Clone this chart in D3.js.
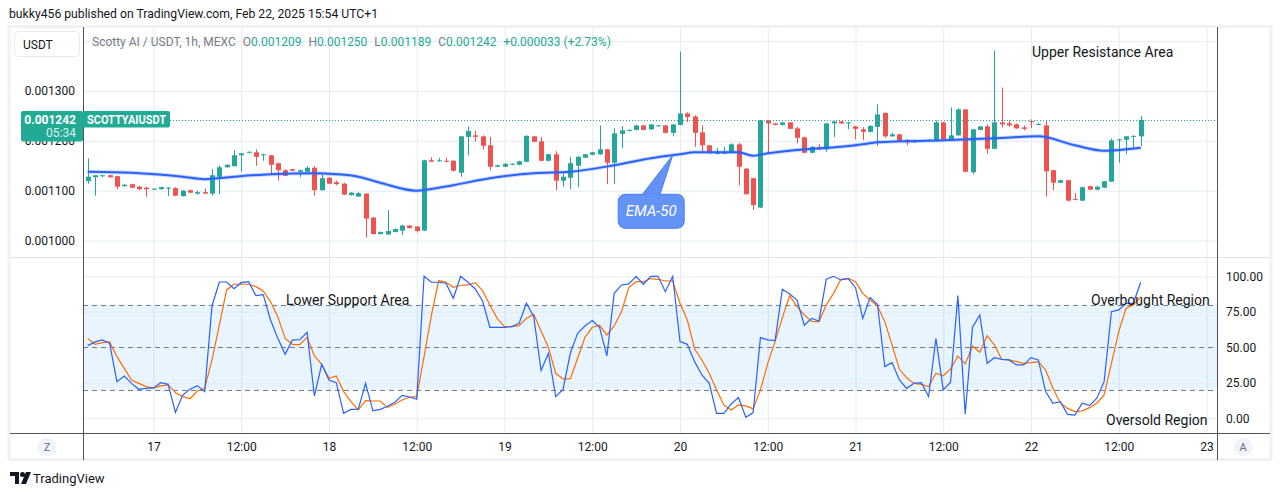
<!DOCTYPE html>
<html>
<head>
<meta charset="utf-8">
<script src="https://cdn.jsdelivr.net/npm/d3@7"></script>
<style>
  body { margin: 0; background: #fff; }
  svg { display: block; font-family: Roboto, "Noto Sans", sans-serif; }
</style>
</head>
<body>
<svg id="chart" width="1281" height="496"></svg>
<script>
// SCOTTYAI / USDT, 1h candles from MEXC
// first candle is Feb 16 15:00, one per hour up to Feb 22 15:00 (145 candles)
const firstCandle = Date.UTC(2025, 1, 16, 15)

const opens = [
  0.001119, 0.001127, 0.001129, 0.001131, 0.001129, 0.001109, 0.001113, 0.001108, 0.001106, 0.001103,
  0.001103, 0.001105, 0.001105, 0.001089, 0.001101, 0.001094, 0.001097, 0.001094, 0.001128, 0.001147,
  0.001149, 0.001171, 0.001176, 0.001177, 0.001171, 0.001171, 0.001155, 0.001141, 0.001143, 0.001138,
  0.001138, 0.001146, 0.001101, 0.001126, 0.001117, 0.001114, 0.001091, 0.001088, 0.001094, 0.001046,
  0.001013, 0.001012, 0.001017, 0.001020, 0.001030, 0.001028, 0.001020, 0.001161, 0.001159, 0.001160,
  0.001160, 0.001136, 0.001208, 0.001211, 0.001209, 0.001191, 0.001148, 0.001148, 0.001152, 0.001152,
  0.001158, 0.001209, 0.001199, 0.001160, 0.001173, 0.001120, 0.001126, 0.001150, 0.001166, 0.001172,
  0.001173, 0.001183, 0.001156, 0.001214, 0.001220, 0.001222, 0.001231, 0.001223, 0.001230, 0.001231,
  0.001216, 0.001232, 0.001255, 0.001249, 0.001217, 0.001191, 0.001174, 0.001175, 0.001177, 0.001193,
  0.001144, 0.001125, 0.001066, 0.001241, 0.001235, 0.001232, 0.001237, 0.001225, 0.001207, 0.001176,
  0.001187, 0.001183, 0.001235, 0.001239, 0.001235, 0.001229, 0.001223, 0.001218, 0.001228, 0.001256,
  0.001209, 0.001213, 0.001202, 0.001197, 0.001199, 0.001200, 0.001200, 0.001237, 0.001203, 0.001211,
  0.001263, 0.001137, 0.001222, 0.001229, 0.001184, 0.001237, 0.001235, 0.001233, 0.001227, 0.001240,
  0.001233, 0.001231, 0.001141, 0.001116, 0.001121, 0.001083, 0.001080, 0.001109, 0.001102, 0.001106,
  0.001118, 0.001201, 0.001202, 0.001209, 0.001209
]
const highs = [
  0.001165, 0.001131, 0.001132, 0.001132, 0.001130, 0.001113, 0.001114, 0.001110, 0.001108, 0.001105,
  0.001108, 0.001107, 0.001107, 0.001101, 0.001102, 0.001100, 0.001104, 0.001143, 0.001151, 0.001153,
  0.001181, 0.001176, 0.001179, 0.001183, 0.001174, 0.001172, 0.001156, 0.001143, 0.001144, 0.001142,
  0.001149, 0.001149, 0.001133, 0.001127, 0.001120, 0.001116, 0.001097, 0.001097, 0.001095, 0.001047,
  0.001018, 0.001061, 0.001024, 0.001031, 0.001031, 0.001029, 0.001162, 0.001167, 0.001166, 0.001166,
  0.001161, 0.001210, 0.001229, 0.001220, 0.001211, 0.001208, 0.001152, 0.001155, 0.001155, 0.001160,
  0.001211, 0.001210, 0.001208, 0.001174, 0.001179, 0.001135, 0.001168, 0.001169, 0.001174, 0.001178,
  0.001231, 0.001184, 0.001225, 0.001230, 0.001223, 0.001232, 0.001232, 0.001234, 0.001232, 0.001232,
  0.001234, 0.001379, 0.001257, 0.001251, 0.001231, 0.001192, 0.001186, 0.001188, 0.001195, 0.001196,
  0.001145, 0.001126, 0.001242, 0.001242, 0.001235, 0.001238, 0.001238, 0.001228, 0.001208, 0.001189,
  0.001193, 0.001236, 0.001240, 0.001240, 0.001238, 0.001230, 0.001227, 0.001231, 0.001273, 0.001257,
  0.001217, 0.001214, 0.001203, 0.001202, 0.001201, 0.001203, 0.001241, 0.001238, 0.001267, 0.001265,
  0.001264, 0.001224, 0.001230, 0.001233, 0.001381, 0.001307, 0.001241, 0.001235, 0.001231, 0.001243,
  0.001236, 0.001241, 0.001142, 0.001122, 0.001122, 0.001095, 0.001108, 0.001110, 0.001109, 0.001120,
  0.001205, 0.001204, 0.001210, 0.001211, 0.001250
]
const lows = [
  0.001114, 0.001090, 0.001127, 0.001126, 0.001103, 0.001108, 0.001105, 0.001101, 0.001088, 0.001102,
  0.001102, 0.001089, 0.001089, 0.001088, 0.001095, 0.001092, 0.001093, 0.001090, 0.001093, 0.001146,
  0.001149, 0.001138, 0.001175, 0.001150, 0.001160, 0.001131, 0.001120, 0.001129, 0.001139, 0.001127,
  0.001133, 0.001090, 0.001100, 0.001113, 0.001111, 0.001091, 0.001090, 0.001088, 0.001006, 0.001012,
  0.001012, 0.001012, 0.001016, 0.001011, 0.001024, 0.001016, 0.001019, 0.001158, 0.001158, 0.001157,
  0.001138, 0.001128, 0.001171, 0.001199, 0.001183, 0.001141, 0.001147, 0.001147, 0.001151, 0.001151,
  0.001157, 0.001197, 0.001159, 0.001159, 0.001101, 0.001108, 0.001103, 0.001107, 0.001165, 0.001171,
  0.001172, 0.001113, 0.001113, 0.001185, 0.001219, 0.001221, 0.001221, 0.001222, 0.001229, 0.001215,
  0.001209, 0.001231, 0.001238, 0.001188, 0.001176, 0.001174, 0.001173, 0.001174, 0.001176, 0.001111,
  0.001092, 0.001061, 0.001065, 0.001173, 0.001231, 0.001231, 0.001223, 0.001195, 0.001175, 0.001175,
  0.001182, 0.001178, 0.001208, 0.001234, 0.001223, 0.001203, 0.001201, 0.001217, 0.001190, 0.001206,
  0.001208, 0.001198, 0.001191, 0.001196, 0.001198, 0.001199, 0.001199, 0.001202, 0.001202, 0.001210,
  0.001137, 0.001133, 0.001221, 0.001174, 0.001183, 0.001227, 0.001228, 0.001224, 0.001221, 0.001226,
  0.001232, 0.001088, 0.001101, 0.001115, 0.001078, 0.001082, 0.001079, 0.001101, 0.001101, 0.001105,
  0.001118, 0.001156, 0.001173, 0.001185, 0.001189
]
const closes = [
  0.001128, 0.001131, 0.001131, 0.001127, 0.001108, 0.001112, 0.001106, 0.001103, 0.001103, 0.001104,
  0.001107, 0.001106, 0.001090, 0.001100, 0.001096, 0.001097, 0.001094, 0.001131, 0.001147, 0.001152,
  0.001171, 0.001175, 0.001178, 0.001168, 0.001173, 0.001152, 0.001141, 0.001130, 0.001140, 0.001141,
  0.001146, 0.001101, 0.001125, 0.001114, 0.001113, 0.001092, 0.001096, 0.001095, 0.001044, 0.001013,
  0.001017, 0.001019, 0.001023, 0.001030, 0.001025, 0.001019, 0.001161, 0.001158, 0.001161, 0.001158,
  0.001140, 0.001209, 0.001220, 0.001208, 0.001190, 0.001148, 0.001151, 0.001154, 0.001154, 0.001159,
  0.001210, 0.001198, 0.001160, 0.001173, 0.001120, 0.001128, 0.001155, 0.001168, 0.001173, 0.001177,
  0.001183, 0.001156, 0.001215, 0.001221, 0.001222, 0.001231, 0.001222, 0.001233, 0.001231, 0.001216,
  0.001233, 0.001255, 0.001248, 0.001216, 0.001191, 0.001175, 0.001176, 0.001176, 0.001193, 0.001148,
  0.001093, 0.001071, 0.001241, 0.001235, 0.001232, 0.001237, 0.001224, 0.001206, 0.001176, 0.001188,
  0.001183, 0.001235, 0.001239, 0.001235, 0.001237, 0.001224, 0.001218, 0.001230, 0.001253, 0.001209,
  0.001213, 0.001199, 0.001197, 0.001201, 0.001200, 0.001202, 0.001237, 0.001203, 0.001211, 0.001263,
  0.001138, 0.001223, 0.001229, 0.001184, 0.001237, 0.001233, 0.001231, 0.001225, 0.001224, 0.001239,
  0.001234, 0.001139, 0.001116, 0.001121, 0.001080, 0.001082, 0.001107, 0.001102, 0.001108, 0.001119,
  0.001201, 0.001203, 0.001209, 0.001210, 0.001242
]

// EMA-50, sampled along the drawn line: [hours after first candle, value]
const ema50 = [
  [0, 0.001138], [6, 0.001136], [13, 0.001128], [16, 0.001123], [20, 0.001128], [25, 0.001133],
  [31, 0.001135], [34, 0.001133], [37, 0.001128], [40, 0.001116], [45, 0.001100], [48, 0.001106],
  [50, 0.001111], [55, 0.001125], [61, 0.001135], [66, 0.001138], [72, 0.001151], [77, 0.001165],
  [81, 0.001173], [83, 0.001177], [89, 0.001177], [91, 0.001170], [93, 0.001175], [98, 0.001183],
  [103, 0.001188], [106, 0.001193], [108, 0.001197], [117, 0.001201], [124, 0.001205], [130, 0.001209],
  [135, 0.001191], [139, 0.001180], [142, 0.001183], [144, 0.001186]
]

// Stochastic %K (blue) and %D (orange), one value per candle
const stochK = [
  51.2, 53.8, 55.2, 52.8, 25.8, 29.8, 24.6, 20.4, 21.1, 21.4,
  25.1, 23.9, 4.2, 16.4, 20.4, 23.0, 18.8, 79.1, 96.0, 96.0,
  91.3, 95.5, 96.2, 86.4, 87.1, 69.2, 56.3, 45.1, 55.2, 55.4,
  60.6, 15.7, 38.0, 27.0, 25.1, 3.5, 6.3, 6.3, 24.6, 5.2,
  6.3, 8.5, 11.3, 16.2, 15.0, 13.4, 100, 95.8, 95.8, 95.1,
  84.5, 100, 95.8, 91.1, 82.6, 64.1, 64.1, 64.1, 64.6, 66.9,
  81.0, 71.6, 33.6, 45.8, 15.3, 20.4, 45.8, 59.9, 65.0, 68.8,
  64.1, 43.9, 88.0, 93.9, 94.6, 100, 94.4, 100, 100, 89.2,
  100, 54.0, 52.1, 39.9, 30.5, 24.6, 3.5, 3.5, 10.1, 14.6,
  0.7, 4.0, 56.8, 55.2, 54.7, 90.8, 87.6, 83.3, 65.5, 70.4,
  68.5, 97.9, 100, 97.4, 98.4, 92.0, 70.4, 85.0, 80.3, 36.4,
  39.2, 27.0, 21.1, 24.6, 25.1, 15.3, 56.3, 20.0, 25.4, 86.4,
  2.8, 64.1, 72.8, 38.7, 42.7, 41.5, 41.1, 37.6, 37.6, 42.7,
  41.1, 18.8, 10.6, 11.7, 2.8, 2.3, 10.6, 8.9, 14.1, 25.8,
  75.1, 76.3, 81.0, 81.0, 95.8
]
const stochD = [
  56.3, 52.1, 53.3, 53.8, 43.4, 35.2, 27.0, 24.6, 22.3, 21.4,
  22.8, 23.5, 18.1, 15.3, 13.8, 19.2, 21.1, 41.1, 65.7, 90.4,
  94.4, 94.4, 94.4, 92.7, 89.7, 82.2, 71.6, 56.3, 52.1, 51.9,
  57.0, 43.9, 38.0, 28.2, 29.8, 18.8, 11.7, 5.9, 12.4, 12.2,
  12.2, 7.7, 9.9, 12.9, 14.8, 15.3, 43.4, 72.5, 97.0, 95.8,
  92.3, 93.7, 93.9, 95.5, 89.9, 79.8, 70.4, 64.6, 64.6, 65.3,
  70.4, 73.2, 61.5, 50.0, 31.7, 27.7, 27.7, 42.3, 57.0, 64.1,
  65.5, 58.7, 65.0, 75.1, 92.0, 96.2, 96.2, 98.4, 97.9, 96.7,
  96.7, 81.0, 69.2, 48.8, 41.1, 31.7, 20.0, 9.4, 5.9, 9.4,
  8.7, 6.6, 20.0, 38.7, 54.0, 70.9, 86.4, 78.6, 72.8, 68.3,
  68.1, 79.8, 88.0, 97.9, 98.6, 96.2, 88.0, 83.3, 79.1, 68.1,
  51.6, 34.5, 28.6, 24.6, 23.9, 22.3, 31.7, 30.0, 34.7, 43.9,
  38.3, 50.9, 46.5, 58.2, 51.6, 41.5, 41.1, 39.9, 38.7, 39.2,
  39.9, 34.0, 21.1, 11.0, 7.0, 4.7, 5.2, 7.5, 10.6, 16.4,
  38.7, 61.0, 77.5, 79.8, 85.7
]

const priceTicks = [0.0010, 0.0011, 0.0012, 0.0013]
const priceGrid = [0.0010, 0.0011, 0.0012, 0.0013, 0.0014]
const stochTicks = [0, 25, 50, 75, 100]
const stochLevels = [80, 50, 20]
const lastPrice = 0.001242

// ---- layout ----
const plotL = 83, plotR = 1217
const priceTop = 27, paneSplit = 257, stochBottom = 433, frameBottom = 460
const green = '#26a69a', red = '#ef5350', teal = '#22ab94'
const gridColor = '#e4ebf2', axisColor = '#50535e', textColor = '#131722'

const hour = 3600 * 1000
const candles = opens.map((o, i) => ({
  t: new Date(firstCandle + i * hour), o, h: highs[i], l: lows[i], c: closes[i],
  k: stochK[i], d: stochD[i]
}))

const x = d3.scaleUtc()
  .domain([new Date(Date.UTC(2025, 1, 17)), new Date(Date.UTC(2025, 1, 23))])
  .range([153.5, 1206.5])
const y = d3.scaleLinear().domain([0.0010, 0.0013]).range([240.5, 91])
const ys = d3.scaleLinear().domain([0, 100]).range([418.3, 276.3])

const svg = d3.select('#chart')

// outer frame of the widget
svg.append('rect')
  .attr('x', 9).attr('y', 26.5).attr('width', 1262).attr('height', 433)
  .attr('fill', '#fff').attr('stroke', '#f0f1f4').attr('stroke-width', 3)

svg.append('defs').selectAll('clipPath')
  .data([['clip-price', priceTop, paneSplit], ['clip-stoch', paneSplit, stochBottom]])
  .join('clipPath').attr('id', d => d[0])
  .append('rect').attr('x', plotL).attr('y', d => d[1])
  .attr('width', plotR - plotL).attr('height', d => d[2] - d[1])

// ---- grids ----
const gridTime = d3.axisBottom(x).ticks(d3.utcHour.every(12))
  .tickSize(-(stochBottom - priceTop)).tickFormat('')
svg.append('g').attr('class', 'grid')
  .attr('transform', `translate(0,${stochBottom})`).call(gridTime)

svg.append('g').attr('class', 'grid')
  .attr('transform', `translate(${plotL},0)`)
  .call(d3.axisLeft(y).tickValues(priceGrid).tickSize(-(plotR - plotL)).tickFormat(''))

// stochastic band between 20 and 80
svg.append('rect')
  .attr('x', plotL).attr('width', plotR - plotL)
  .attr('y', ys(80)).attr('height', ys(20) - ys(80))
  .attr('fill', 'rgba(33,150,243,0.1)')

svg.append('g').attr('class', 'grid')
  .attr('transform', `translate(${plotL},0)`)
  .call(d3.axisLeft(ys).tickValues(stochTicks).tickSize(-(plotR - plotL)).tickFormat(''))

svg.selectAll('.grid .domain').remove()
svg.selectAll('.grid line').attr('stroke', gridColor)

svg.append('g').selectAll('line')
  .data(stochLevels).join('line')
  .attr('x1', plotL).attr('x2', plotR)
  .attr('y1', d => Math.round(ys(d)) + 0.5).attr('y2', d => Math.round(ys(d)) + 0.5)
  .attr('stroke', '#787b86').attr('stroke-dasharray', '5,4')

// ---- candles ----
const candleG = svg.append('g').attr('clip-path', 'url(#clip-price)')
const bar = candleG.selectAll('g').data(candles).join('g')
  .attr('fill', d => d.c >= d.o ? green : red)
  .attr('stroke', d => d.c >= d.o ? green : red)
bar.append('line')
  .attr('x1', d => Math.round(x(d.t)) + 0.5).attr('x2', d => Math.round(x(d.t)) + 0.5)
  .attr('y1', d => y(d.h)).attr('y2', d => y(d.l))
bar.append('rect')
  .attr('stroke', 'none')
  .attr('x', d => Math.round(x(d.t)) - 2).attr('width', 5)
  .attr('y', d => y(Math.max(d.o, d.c)))
  .attr('height', d => Math.max(1, Math.abs(y(d.o) - y(d.c))))

// EMA-50
const emaLine = d3.line()
  .x(d => x(new Date(firstCandle + d[0] * hour)))
  .y(d => y(d[1]))
  .curve(d3.curveMonotoneX)
candleG.append('path').datum(ema50)
  .attr('d', emaLine).attr('fill', 'none')
  .attr('stroke', '#2962ff').attr('stroke-opacity', 0.25).attr('stroke-width', 4)
candleG.append('path').datum(ema50)
  .attr('d', emaLine).attr('fill', 'none')
  .attr('stroke', '#2962ff').attr('stroke-width', 2)

// ---- stochastic lines ----
const stochG = svg.append('g').attr('clip-path', 'url(#clip-stoch)')
stochG.append('path').datum(candles)
  .attr('d', d3.line().x(d => x(d.t)).y(d => ys(d.d)))
  .attr('fill', 'none').attr('stroke', '#ff6d00').attr('stroke-width', 1.2)
stochG.append('path').datum(candles)
  .attr('d', d3.line().x(d => x(d.t)).y(d => ys(d.k)))
  .attr('fill', 'none').attr('stroke', '#2962ff').attr('stroke-width', 1.2)

// ---- axes ----
const priceAxis = svg.append('g')
  .attr('transform', `translate(${plotL},0)`)
  .call(d3.axisLeft(y).tickValues(priceTicks).tickFormat(d3.format('.6f')).tickSize(0).tickPadding(8))
const stochAxis = svg.append('g')
  .attr('transform', `translate(${plotR},0)`)
  .call(d3.axisRight(ys).tickValues(stochTicks).tickFormat(d3.format('.2f')).tickSize(0).tickPadding(9))
const timeAxis = svg.append('g')
  .attr('transform', `translate(0,${stochBottom})`)
  .call(d3.axisBottom(x).ticks(d3.utcHour.every(12))
    .tickFormat(d => d.getUTCHours() === 0 ? d3.utcFormat('%-d')(d) : '12:00')
    .tickSize(0).tickPadding(9))
for (const a of [priceAxis, stochAxis, timeAxis]) {
  a.select('.domain').remove()
  a.selectAll('text').attr('fill', textColor).attr('font-size', 12)
    .attr('font-family', 'Roboto, sans-serif')
}

// frame lines
const frame = svg.append('g').attr('stroke-width', 1)
frame.append('line').attr('x1', 10).attr('x2', 1270).attr('y1', paneSplit + 0.5).attr('y2', paneSplit + 0.5)
  .attr('stroke', '#e0e3eb')
frame.append('line').attr('x1', 10).attr('x2', 1270).attr('y1', stochBottom + 0.5).attr('y2', stochBottom + 0.5)
  .attr('stroke', axisColor)
frame.selectAll('.v').data([plotL, plotR]).join('line')
  .attr('x1', d => d + 0.5).attr('x2', d => d + 0.5)
  .attr('y1', priceTop).attr('y2', frameBottom)
  .attr('stroke', axisColor)

// ---- last price labels ----
const ly = y(lastPrice)
const nameW = 87
svg.append('line')
  .attr('x1', plotL + nameW).attr('x2', plotR)
  .attr('y1', Math.round(ly) + 0.5).attr('y2', Math.round(ly) + 0.5)
  .attr('stroke', teal).attr('stroke-dasharray', '1,2')
svg.append('rect').attr('x', 21).attr('y', ly - 9).attr('width', plotL - 21).attr('height', 30.5)
  .attr('rx', 2).attr('fill', teal)
svg.append('text').attr('x', 76).attr('y', ly + 4.5).attr('text-anchor', 'end')
  .attr('fill', '#fff').attr('font-size', 12).attr('font-weight', 'bold').text('0.001242')
svg.append('text').attr('x', 76).attr('y', ly + 17.5).attr('text-anchor', 'end')
  .attr('fill', '#fff').attr('fill-opacity', 0.85).attr('font-size', 12).text('05:34')
svg.append('rect').attr('x', plotL).attr('y', ly - 9).attr('width', nameW).attr('height', 16.5)
  .attr('rx', 2).attr('fill', teal)
svg.append('text').attr('x', 87).attr('y', ly + 4).attr('fill', '#fff')
  .attr('font-size', 12).attr('font-weight', 'bold')
  .attr('textLength', 79).attr('lengthAdjust', 'spacingAndGlyphs')
  .text('SCOTTYAIUSDT')

// USDT button
svg.append('rect').attr('x', 14.5).attr('y', 31.5).attr('width', 65).attr('height', 25)
  .attr('rx', 4).attr('fill', '#fff').attr('stroke', '#e8eaef')
svg.append('text').attr('x', 23).attr('y', 48.5).attr('fill', textColor)
  .attr('font-size', 12).text('USDT')

// ---- header / legend ----
svg.append('text').attr('x', 9).attr('y', 18).attr('fill', textColor)
  .attr('font-size', 12.2).text('bukky456 published on TradingView.com, Feb 22, 2025 15:54 UTC+1')

const legend = svg.append('text').attr('x', 92).attr('y', 46).attr('font-size', 12).attr('fill', '#787b86')
legend.append('tspan').text('Scotty AI / USDT, 1h, MEXC')
for (const [k, v] of [['O', '0.001209'], ['H', '0.001250'], ['L', '0.001189'], ['C', '0.001242']]) {
  legend.append('tspan').attr('dx', 7).text(k)
  legend.append('tspan').attr('fill', teal).text(v)
}
legend.append('tspan').attr('dx', 7).attr('fill', teal).text('+0.000033 (+2.73%)')

// ---- annotations ----
const notes = [
  ['Upper Resistance Area', 1032, 57],
  ['Lower Support Area', 286, 305],
  ['Overbought Region', 1091, 305],
  ['Oversold Region', 1106, 425]
]
svg.append('g').selectAll('text').data(notes).join('text')
  .attr('x', d => d[1]).attr('y', d => d[2])
  .attr('fill', textColor).attr('font-size', 14).text(d => d[0])

// EMA-50 callout, tip on the EMA at hour 80
const tipX = x(new Date(firstCandle + 80 * hour)), tipY = y(0.001171)
const callout = svg.append('g')
callout.append('path')
  .attr('d', `M${tipX - 31},${tipY + 40} L${tipX},${tipY} L${tipX - 13},${tipY + 40} Z`)
  .attr('fill', '#6393f6').attr('stroke', '#4a7df0')
callout.append('rect')
  .attr('x', tipX - 54.5).attr('y', tipY + 39).attr('width', 66).attr('height', 34)
  .attr('rx', 7).attr('fill', '#6393f6').attr('stroke', '#4a7df0')
callout.append('path')
  .attr('d', `M${tipX - 30},${tipY + 40} L${tipX - 14},${tipY + 40}`)
  .attr('stroke', '#6393f6').attr('stroke-width', 2)
callout.append('text').attr('x', tipX - 21.5).attr('y', tipY + 61)
  .attr('text-anchor', 'middle').attr('fill', '#fff').attr('font-size', 15)
  .attr('font-style', 'italic').text('EMA-50')

// scale buttons
const btn = svg.append('g').selectAll('g').data([['Z', 47], ['A', 1243]]).join('g')
btn.append('circle').attr('cx', d => d[1]).attr('cy', 447).attr('r', 9.5).attr('fill', '#f0f3fa')
btn.append('text').attr('x', d => d[1]).attr('y', 451).attr('text-anchor', 'middle')
  .attr('font-size', 11).attr('fill', '#6a6d78').text(d => d[0])

// TradingView logo
const logo = svg.append('g').attr('fill', '#131722')
logo.append('path').attr('d', 'M10,472 h9 v12 h-4 v-8 h-5 Z')
logo.append('circle').attr('cx', 22.5).attr('cy', 474.5).attr('r', 2.5)
logo.append('path').attr('d', 'M26,472 h5 l-5,12 h-5 Z')
svg.append('text').attr('x', 33).attr('y', 483).attr('font-size', 13)
  .attr('fill', textColor).text('TradingView')
</script>
</body>
</html>
